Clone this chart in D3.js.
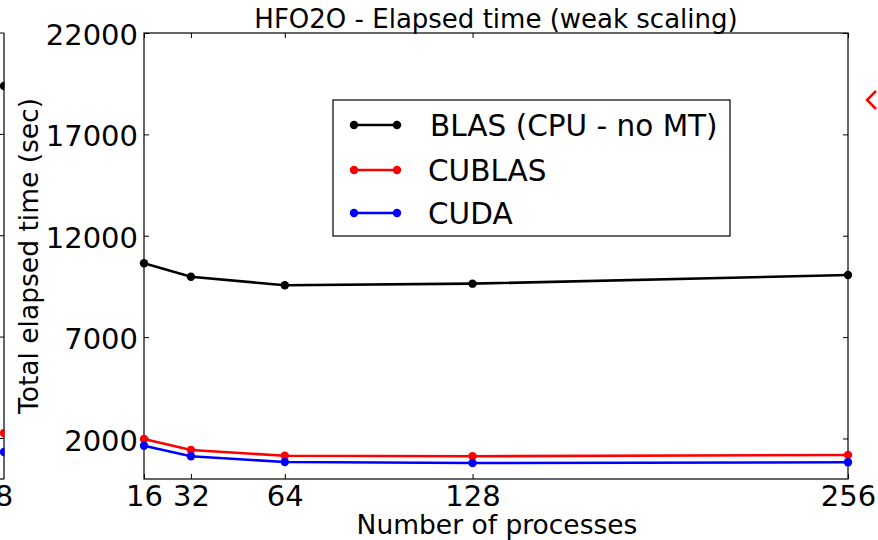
<!DOCTYPE html>
<html><head><meta charset="utf-8">
<script src="https://cdn.jsdelivr.net/npm/d3@7"></script>
<style>body{margin:0;background:#fff}svg{display:block;font-family:"DejaVu Sans",sans-serif}</style>
</head><body><svg id="c" width="878" height="540"></svg>
<script>
const procs = [16, 32, 64, 128, 256];
const blas = [10640, 9980, 9555, 9635, 10063];
const cublas = [1973, 1430, 1150, 1120, 1184];
const cuda = [1644, 1120, 839, 789, 824];
const seriesNames = ["BLAS (CPU - no MT)", "CUBLAS", "CUDA"];
const seriesColors = ["#000000", "#ff0000", "#0000ff"];
const yTicks = [2000, 7000, 12000, 17000, 22000];
const xTicks = [16, 32, 64, 128, 256];
// fragment of neighbouring subplot (last point, x = 8)
const prevX = [8];
const prevVals = [[19390], [2270], [1330]];

const svg = d3.select("#c");
const L = 144, R = 848, T = 33, B = 479;
const x = d3.scaleLinear().domain([16, 256]).range([L, R]);
const y = d3.scaleLinear().domain([0, 22000]).range([B, T]);

// neighbouring subplot fragment (left)
const px = d3.scaleLinear().domain([0, 8]).range([-600, 4]);
svg.append("clipPath").attr("id","lc").append("rect").attr("x",-10).attr("y",0).attr("width",14.5).attr("height",540);
const lf = svg.append("g");
lf.append("line").attr("x1",4).attr("x2",4).attr("y1",T).attr("y2",B).attr("stroke","#000").attr("stroke-width",1.2);
lf.append("line").attr("x1",0).attr("x2",4).attr("y1",B).attr("y2",B).attr("stroke","#000").attr("stroke-width",1.2);
yTicks.forEach(t=>lf.append("line").attr("x1",0).attr("x2",4).attr("y1",y(t)).attr("y2",y(t)).attr("stroke","#000"));
const lg = lf.append("g").attr("clip-path","url(#lc)");
prevVals.forEach((vals,i)=>{
  vals.forEach((v,j)=>lg.append("circle").attr("cx",px(prevX[j])).attr("cy",y(v)).attr("r",4.2).attr("fill",seriesColors[i]));
});
lf.append("text").attr("x",px(8)).attr("y",506).attr("text-anchor","middle").attr("font-size",29).text("8");

// right fragment marker
svg.append("path").attr("d","M876,91 L867,100 L876,109").attr("fill","none").attr("stroke","#ff0000").attr("stroke-width",2.5);

// title
svg.append("text").attr("x",(L+R)/2).attr("y",28).attr("text-anchor","middle").attr("font-size",26).text("HFO2O - Elapsed time (weak scaling)");

// frame
svg.append("rect").attr("x",L).attr("y",T).attr("width",R-L).attr("height",B-T).attr("fill","none").attr("stroke","#000").attr("stroke-width",1.2);

// axes with inward ticks
const ya = svg.append("g").attr("transform",`translate(${L},0)`)
  .call(d3.axisLeft(y).tickValues(yTicks).tickSize(-5).tickPadding(6).tickFormat(d3.format("d")));
ya.select(".domain").remove();
ya.selectAll("text").attr("font-size",29).attr("font-family","DejaVu Sans").attr("fill","#000").attr("dy","0.4em");
const yr = svg.append("g").attr("transform",`translate(${R},0)`)
  .call(d3.axisRight(y).tickValues(yTicks).tickSize(-5).tickFormat(""));
yr.select(".domain").remove();
const xa = svg.append("g").attr("transform",`translate(0,${B})`)
  .call(d3.axisBottom(x).tickValues(xTicks).tickSize(-5).tickFormat(d3.format("d")));
xa.select(".domain").remove();
xa.selectAll("text").attr("font-size",29).attr("font-family","DejaVu Sans").attr("fill","#000").attr("y",27).attr("dy","0");
const xt = svg.append("g").attr("transform",`translate(0,${T})`)
  .call(d3.axisTop(x).tickValues(xTicks).tickSize(-5).tickFormat(""));
xt.select(".domain").remove();

// labels
svg.append("text").attr("x",497).attr("y",534).attr("text-anchor","middle").attr("font-size",26.5).text("Number of processes");
svg.append("text").attr("transform",`translate(38,${(T+B)/2}) rotate(-90)`).attr("text-anchor","middle").attr("font-size",26.5).text("Total elapsed time (sec)");

// series
const all = [blas, cublas, cuda];
const line = d3.line().x((d,i)=>x(procs[i])).y(d=>y(d));
all.forEach((vals,i)=>{
  svg.append("path").datum(vals).attr("d",line).attr("fill","none").attr("stroke",seriesColors[i]).attr("stroke-width",2.6);
  svg.selectAll(null).data(vals).enter().append("circle")
    .attr("cx",(d,j)=>x(procs[j])).attr("cy",d=>y(d)).attr("r",4.2).attr("fill",seriesColors[i]);
});

// legend
const lgd = svg.append("g");
lgd.append("rect").attr("x",333).attr("y",100).attr("width",397).attr("height",136).attr("fill","#fff").attr("stroke","#000").attr("stroke-width",1.2);
const ly = [125, 170, 213];
seriesNames.forEach((n,i)=>{
  lgd.append("line").attr("x1",354).attr("x2",397).attr("y1",ly[i]).attr("y2",ly[i]).attr("stroke",seriesColors[i]).attr("stroke-width",2.6);
  [354,397].forEach(cx=>lgd.append("circle").attr("cx",cx).attr("cy",ly[i]).attr("r",4.2).attr("fill",seriesColors[i]));
  lgd.append("text").attr("x",i===0?430:428).attr("y",ly[i]).attr("dy","0.36em").attr("font-size",29.5).text(n);
});
</script></body></html>
